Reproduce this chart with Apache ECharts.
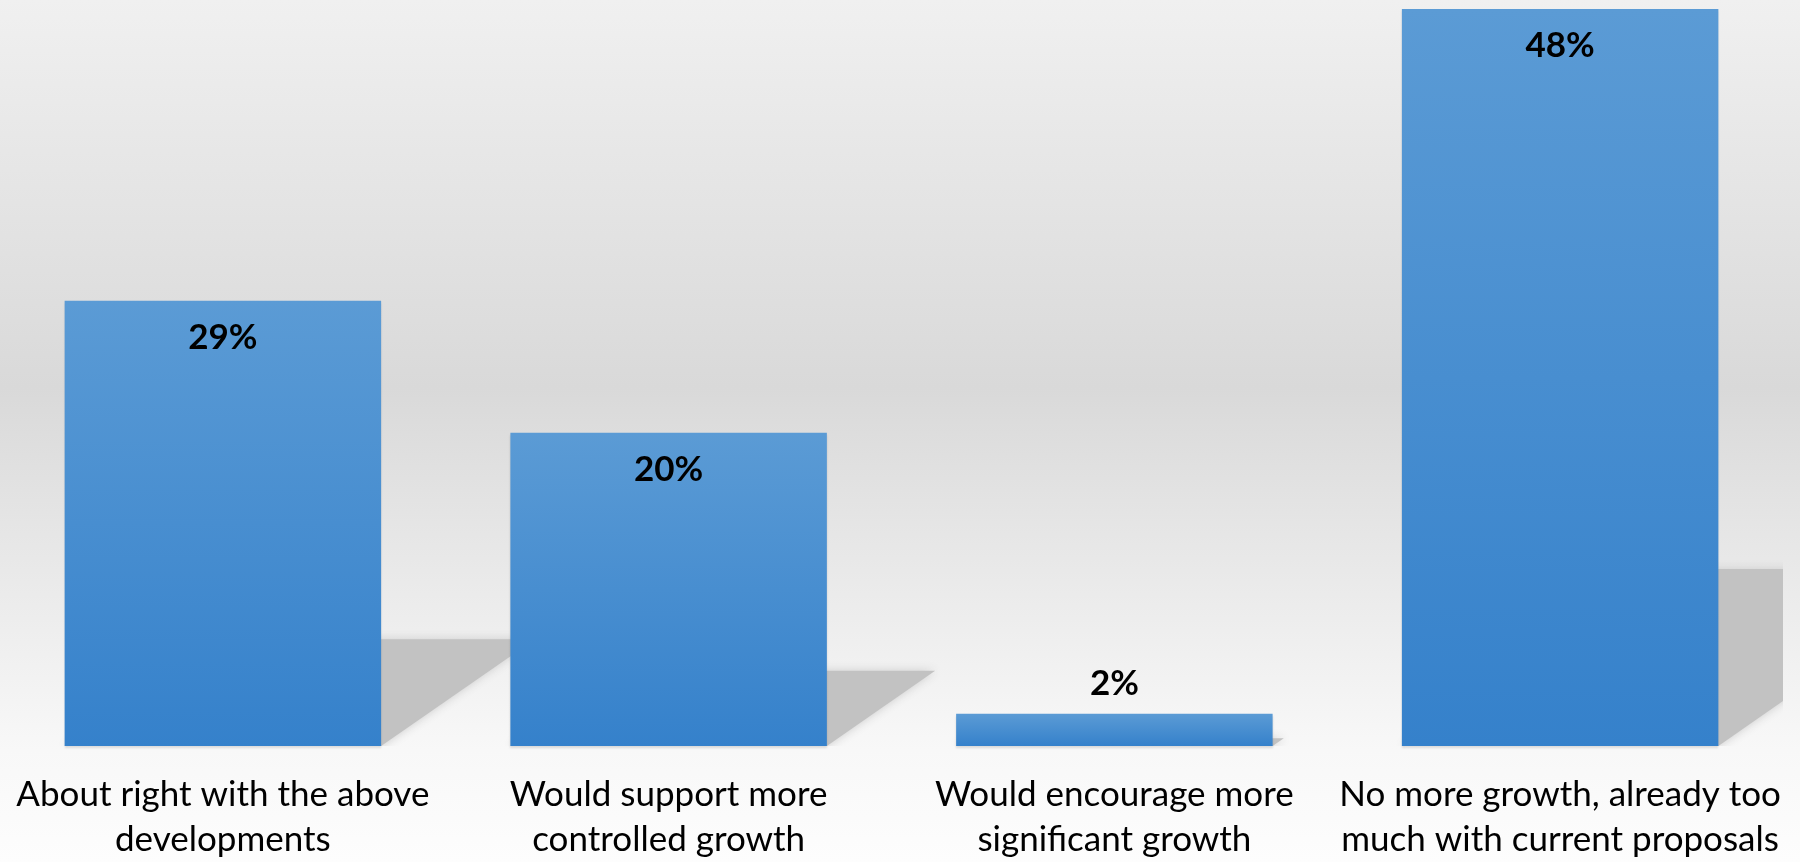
<!DOCTYPE html>
<html>
<head>
<meta charset="utf-8">
<script src="https://cdn.jsdelivr.net/npm/echarts@6/dist/echarts.min.js"></script>
<style>
html,body{margin:0;padding:0;}
#chart{width:1800px;height:862px;}
</style>
</head>
<body>
<div id="chart"></div>
<script>
const categories = [
  'About right with the above\ndevelopments',
  'Would support more\ncontrolled growth',
  'Would encourage more\nsignificant growth',
  'No more growth, already too\nmuch with current proposals'
];
const values = [29, 20.4, 2.1, 48];
const yMax = 48;

const chart = echarts.init(document.getElementById('chart'));
const bandRatio = 0.71;

const option = {
  animation: false,
  backgroundColor: {
    type: 'linear', x: 0, y: 0, x2: 0, y2: 1,
    colorStops: [
      { offset: 0, color: '#f0f0f0' },
      { offset: 0.45, color: '#d9d9d9' },
      { offset: 0.62, color: '#e6e6e6' },
      { offset: 0.87, color: '#f8f8f8' },
      { offset: 1, color: '#fdfdfd' }
    ]
  },
  grid: { left: -5, right: 17, top: 9, bottom: 115, containLabel: false },
  xAxis: {
    type: 'category',
    data: categories,
    axisLine: { show: false },
    axisTick: { show: false },
    axisLabel: {
      interval: 0,
      margin: 26,
      color: '#000',
      fontFamily: 'Lato, sans-serif',
      fontSize: 35,
      lineHeight: 45,
      align: 'center'
    }
  },
  yAxis: {
    type: 'value', min: 0, max: yMax, show: false,
    splitLine: { show: false }
  },
  series: [
    {
      type: 'custom',
      clip: true,
      z: 1,
      data: values.map((v, i) => [i, v]),
      encode: { x: 0, y: 1 },
      renderItem: function (params, api) {
        const idx = api.value(0);
        const v = api.value(1);
        const base = api.coord([idx, 0]);
        const top = api.coord([idx, v]);
        const bw = api.size([1, 0])[0] * bandRatio;
        const x0 = base[0] - bw / 2;
        const x1 = base[0] + bw / 2;
        const h = base[1] - top[1];
        const sh = 0.24 * h;
        const off = 1.44 * sh;
        const by = base[1];
        return {
          type: 'polygon',
          shape: { points: [[x0, by], [x1, by], [x1 + off, by - sh], [x0 + off, by - sh]] },
          style: { fill: '#c2c2c2', shadowBlur: 10, shadowColor: '#cccccc' }
        };
      }
    },
    {
      type: 'bar',
      z: 2,
      barCategoryGap: '29%',
      data: values.map(v => ({
        value: v,
        label: v < 5 ? { position: 'top', distance: 13 } : { position: 'insideTop', distance: 19 }
      })),
      itemStyle: {
        color: {
          type: 'linear', x: 0, y: 0, x2: 0, y2: 1,
          colorStops: [
            { offset: 0, color: '#5b9bd5' },
            { offset: 1, color: '#3581cb' }
          ]
        },
        shadowColor: 'rgba(0,0,0,0.12)',
        shadowOffsetY: 2,
        shadowBlur: 2
      },
      label: {
        show: true,
        color: '#000',
        fontFamily: 'Lato, sans-serif',
        fontWeight: 'bold',
        fontSize: 35,
        formatter: p => Math.round(p.value) + '%'
      }
    }
  ]
};
chart.setOption(option);
</script>
</body>
</html>
